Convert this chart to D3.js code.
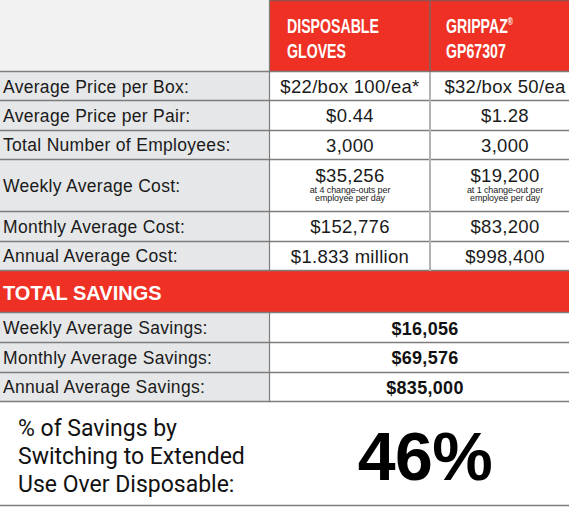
<!DOCTYPE html>
<html><head><meta charset="utf-8">
<script src="https://cdn.jsdelivr.net/npm/d3@7"></script>
<style>html,body{margin:0;padding:0;background:#fff;overflow:hidden}</style>
</head><body><svg id="c" width="569" height="507"></svg>
<script>
// ---- data ----
const headerTitles = [["DISPOSABLE","GLOVES"],["GRIPPAZ","GP67307"]];
const headerMarks = ["", "®"];
const rowLabels = ["Average Price per Box:","Average Price per Pair:","Total Number of Employees:","Weekly Average Cost:","Monthly Average Cost:","Annual Average Cost:"];
const disposableValues = ["$22/box 100/ea*","$0.44","3,000","$35,256","$152,776","$1.833 million"];
const grippazValues = ["$32/box 50/ea","$1.28","3,000","$19,200","$83,200","$998,400"];
const disposableNotes = [[],[],[],["at 4 change-outs per","employee per day"],[],[]];
const grippazNotes = [[],[],[],["at 1 change-out per","employee per day"],[],[]];
const sectionTitle = "TOTAL SAVINGS";
const savingsLabels = ["Weekly Average Savings:","Monthly Average Savings:","Annual Average Savings:"];
const savingsValues = ["$16,056","$69,576","$835,000"];
const percentLabel = ["% of Savings by","Switching to Extended","Use Over Disposable:"];
const percentValue = "46%";

// ---- layout ----
const RED = "#ee3124", LABELBG = "#e6e7e8", HEADBG = "#f2f2f2", LINE = "#7d7d7d", LINE2 = "#b3b3b3";
const colEdges = [0, 270, 430, 580];
const rowHeights = [72, 29, 29.5, 29.5, 52, 29.5, 29.5, 42, 30, 29.5, 29.5, 104];
const yEdges = [0]; rowHeights.forEach(h => yEdges.push(yEdges[yEdges.length-1] + h));
const yRow = i => yEdges[i], hRow = i => rowHeights[i];

const svg = d3.select("#c");
const LF = "'Liberation Sans', Arial, sans-serif";

// header
svg.append("rect").attr("x",0).attr("y",0).attr("width",colEdges[1]).attr("height",yEdges[1]).attr("fill",HEADBG);
svg.selectAll("rect.hd").data(headerTitles).join("rect").attr("class","hd")
  .attr("x",(d,i)=>colEdges[i+1]).attr("y",0)
  .attr("width",(d,i)=>colEdges[i+2]-colEdges[i+1]).attr("height",yEdges[1]).attr("fill",RED);
const ht = svg.selectAll("g.ht").data(headerTitles).join("g").attr("class","ht");
ht.each(function(lines, i){
  const g = d3.select(this);
  lines.forEach((ln, j) => {
    const t = g.append("text")
      .attr("transform", `translate(${colEdges[i+1]+(i===0?17:16)},${33 + j*25}) scale(0.69,1)`)
      .attr("font-family","'Liberation Sans Narrow', 'Liberation Sans', sans-serif")
      .attr("font-weight","bold").attr("font-size",20.5).attr("fill","#fff").text(ln);
    if (j===0 && headerMarks[i]) t.append("tspan").attr("font-size",10).attr("dy",-8).text(headerMarks[i]);
  });
});

// body rows
const body = rowLabels.map((l,i)=>({label:l, a:disposableValues[i], b:grippazValues[i], na:disposableNotes[i], nb:grippazNotes[i], r:i+1}));
svg.selectAll("rect.lb").data(body).join("rect").attr("class","lb")
  .attr("x",0).attr("y",d=>yRow(d.r)).attr("width",colEdges[1]).attr("height",d=>hRow(d.r)).attr("fill",LABELBG);
svg.selectAll("text.lb").data(body).join("text").attr("class","lb")
  .attr("x",3).attr("y",d=>yRow(d.r)+hRow(d.r)/2+6)
  .attr("font-family",LF).attr("font-size",17.5).attr("letter-spacing",0.3).attr("fill","#1a1a1a").text(d=>d.label);
[["a","na"],["b","nb"]].forEach(([k,nk],ci)=>{
  const cx = (colEdges[ci+1]+colEdges[ci+2])/2;
  svg.selectAll("text.v"+k).data(body).join("text").attr("class","v"+k)
    .attr("x",cx).attr("y",d=> d[nk].length ? yRow(d.r)+22 : yRow(d.r)+hRow(d.r)/2+6.5)
    .attr("text-anchor","middle").attr("font-family",LF).attr("font-size",18.5).attr("letter-spacing",0.3)
    .attr("fill","#1a1a1a").text(d=>d[k]);
  body.filter(d=>d[nk].length).forEach(d=>{
    d[nk].forEach((ln,j)=>{
      svg.append("text").attr("x",cx).attr("y",yRow(d.r)+33+j*8)
        .attr("text-anchor","middle").attr("font-family",LF).attr("font-size",9).attr("letter-spacing",-0.1)
        .attr("fill","#1a1a1a").text(ln);
    });
  });
});

// section band
const sr = 1 + rowLabels.length;
svg.append("rect").attr("x",0).attr("y",yRow(sr)).attr("width",colEdges[3]).attr("height",hRow(sr)).attr("fill",RED);
svg.append("text").attr("x",3).attr("y",yRow(sr)+hRow(sr)/2+8).attr("font-family",LF).attr("font-weight","bold")
  .attr("font-size",20).attr("fill","#fff").text(sectionTitle);

// savings rows
const sav = savingsLabels.map((l,i)=>({label:l, v:savingsValues[i], r:sr+1+i}));
svg.selectAll("rect.sl").data(sav).join("rect").attr("class","sl")
  .attr("x",0).attr("y",d=>yRow(d.r)).attr("width",colEdges[1]).attr("height",d=>hRow(d.r)).attr("fill",LABELBG);
svg.selectAll("text.sl").data(sav).join("text").attr("class","sl")
  .attr("x",3).attr("y",d=>yRow(d.r)+hRow(d.r)/2+6)
  .attr("font-family",LF).attr("font-size",17.5).attr("letter-spacing",0.3).attr("fill","#1a1a1a").text(d=>d.label);
svg.selectAll("text.sv").data(sav).join("text").attr("class","sv")
  .attr("x",(colEdges[1]+colEdges[3])/2).attr("y",d=>yRow(d.r)+hRow(d.r)/2+6.5).attr("text-anchor","middle")
  .attr("font-family",LF).attr("font-weight","bold").attr("font-size",18).attr("letter-spacing",0.3).attr("fill","#111").text(d=>d.v);

// bottom block
const br = sr + 1 + savingsLabels.length;
svg.selectAll("text.pl").data(percentLabel).join("text").attr("class","pl")
  .attr("x",18).attr("y",(d,i)=>yRow(br)+34+i*28).attr("font-family","Roboto, sans-serif").attr("font-size",23)
  .attr("fill","#111").text(d=>d);
svg.append("text").attr("x",(colEdges[1]+colEdges[3])/2).attr("y",yRow(br)+78).attr("text-anchor","middle")
  .attr("font-family",LF).attr("font-weight","bold").attr("font-size",68).attr("letter-spacing",-0.5).attr("fill","#000").text(percentValue);

// grid lines
const hl = d3.range(1, yEdges.length).map(i=>yEdges[i]);
svg.selectAll("line.h").data(hl).join("line").attr("class","h")
  .attr("x1",0).attr("x2",colEdges[3]).attr("y1",d=>Math.round(d)-0.5).attr("y2",d=>Math.round(d)-0.5)
  .attr("stroke",LINE).attr("stroke-width",1.5);
svg.append("line").attr("x1",colEdges[1]).attr("x2",colEdges[3]).attr("y1",0.5).attr("y2",0.5).attr("stroke","#94514b").attr("stroke-width",1.5);
svg.append("line").attr("x1",colEdges[1]-0.5).attr("x2",colEdges[1]-0.5).attr("y1",0).attr("y2",yEdges[sr]).attr("stroke",LINE).attr("stroke-width",1.2);
svg.append("line").attr("x1",colEdges[1]-0.5).attr("x2",colEdges[1]-0.5).attr("y1",yEdges[sr+1]).attr("y2",yEdges[br]).attr("stroke",LINE).attr("stroke-width",1.2);
svg.append("line").attr("x1",colEdges[2]).attr("x2",colEdges[2]).attr("y1",0).attr("y2",yEdges[1]).attr("stroke","#9a5650").attr("stroke-width",2);
svg.append("line").attr("x1",colEdges[2]).attr("x2",colEdges[2]).attr("y1",yEdges[1]).attr("y2",yEdges[sr]).attr("stroke",LINE2).attr("stroke-width",2);
</script></body></html>
